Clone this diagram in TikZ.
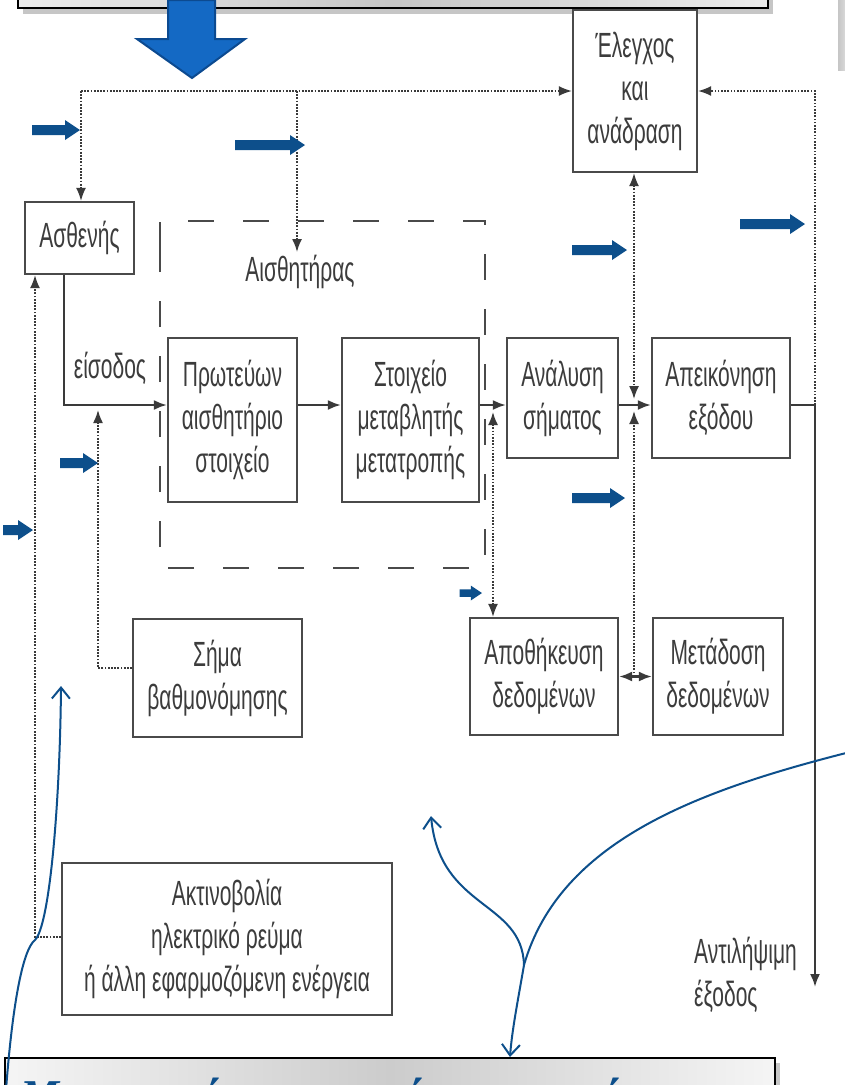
\documentclass[tikz,border=0pt]{standalone}
\usepackage{fontspec}
\setmainfont{Liberation Sans}
\newfontfamily\dfont[FakeStretch=0.6]{Liberation Sans}
\newfontfamily\capfont{Liberation Serif}
\usetikzlibrary{arrows.meta,calc}
\definecolor{linec}{HTML}{3A3A3A}
\definecolor{boxc}{HTML}{4A4A4A}
\definecolor{textc}{HTML}{3C3C3C}
\definecolor{bluec}{HTML}{0D4F8B}
\definecolor{bigblue}{HTML}{1469C4}
\definecolor{bigblueedge}{HTML}{0C4A90}
\newcommand\blockarr[4]{%
  \begin{scope}[shift={(#1,#2)},scale=#4]
    \fill[bluec] (0,0) -- (-15,-10) -- (-15,-5) -- (-#3,-5) -- (-#3,5) -- (-15,5) -- (-15,10) -- cycle;
  \end{scope}}
\tikzset{
  box/.style={draw=boxc, line width=2.2pt, fill=white, inner sep=0pt, align=center,
    text=textc, font=\dfont\fontsize{35}{43}\selectfont},
  lbl/.style={inner sep=0pt, align=center, text=textc, font=\dfont\fontsize{35}{43}\selectfont},
  conn/.style={draw=linec, line width=2.2pt},
  dotc/.style={draw=linec, line width=1.7pt, dash pattern=on 1.7pt off 1.5pt},
  tipa/.style={-{Latex[length=13pt,width=10pt]}},
  tipb/.style={{Latex[length=13pt,width=10pt]}-{Latex[length=13pt,width=10pt]}},
  callout/.style={draw=bluec, line width=2pt, -{Straight Barb[length=11pt,width=18pt,line width=2pt]}},
}
\begin{document}
\begin{tikzpicture}[x=1pt,y=-1pt]
\useasboundingbox (0,0) rectangle (844,1085);

% top caption box (cut off)
\fill[gray!45] (23,-20) rectangle (773,14);
\shade[left color=gray!15, right color=gray!15, middle color=gray!45, draw=black, line width=1.2pt] (18,-30) rectangle (768,8);
% right edge shadow box
\shade[left color=gray!45, right color=gray!20] (838,0) rectangle (850,70);

% big blue arrow
\filldraw[fill=bigblue, draw=bigblueedge, line width=2pt]
  (168,0) -- (215,0) -- (215,39) -- (245,39) -- (192,78) -- (137,39) -- (168,39) -- cycle;

% sensor dashed frame
\draw[boxc, line width=2.5pt, dash pattern=on 26pt off 29pt, dash phase=0pt]
  (160,248) -- (160,221) -- (485,221) -- (485,568) -- (160,568) -- cycle;

% boxes
\node[box, minimum width=109pt, minimum height=72pt] (patient) at (79.5,238) {Ασθενής};
\node[box, minimum width=124pt, minimum height=162pt] (control) at (635,91) {Έλεγχος\\και\\ανάδραση};
\node[box, minimum width=129pt, minimum height=164pt] (primary) at (232.5,420) {Πρωτεύων\\αισθητήριο\\στοιχείο};
\node[box, minimum width=137pt, minimum height=164pt] (conv) at (410.5,420) {Στοιχείο\\μεταβλητής\\μετατροπής};
\node[box, minimum width=111pt, minimum height=120pt] (analysis) at (562.5,398) {Ανάλυση\\σήματος};
\node[box, minimum width=138pt, minimum height=120pt] (display) at (721,398) {Απεικόνηση\\εξόδου};
\node[box, minimum width=148pt, minimum height=117pt] (storage) at (544,676.5) {Αποθήκευση\\δεδομένων};
\node[box, minimum width=130pt, minimum height=117pt] (transmit) at (718,676.5) {Μετάδοση\\δεδομένων};
\node[box, minimum width=169pt, minimum height=118pt] (calib) at (217.5,678) {Σήμα\\βαθμονόμησης};
\node[box, minimum width=330pt, minimum height=152pt] (energy) at (227,939) {Ακτινοβολία\\ηλεκτρικό ρεύμα\\ή άλλη εφαρμοζόμενη ενέργεια};

% labels
\node[lbl] (inlbl) at (110,368) {είσοδος};
\node[lbl] (senslbl) at (300,272) {Αισθητήρας};
\node[lbl, align=left, anchor=west] (outlbl) at (694,975) {Αντιλήψιμη\\έξοδος};

% coordinates
\coordinate (s) at (0,405);
\coordinate (pin) at (64,405);
\coordinate (tl) at (81,91);
\coordinate (tm) at (297,91);
\coordinate (tr) at (815,91);
\coordinate (outc) at (815,405);
\coordinate (outend) at (815,987);
\coordinate (vx) at (634,0);
\coordinate (ux) at (493,0);
\coordinate (cx) at (98,0);
\coordinate (ex) at (35,0);

% solid signal path
\draw[conn, tipa] (patient.south -| pin) -- (pin) -- (primary.west |- s);
\draw[conn, tipa] (primary.east |- s) -- (conv.west |- s);
\draw[conn, tipa] (conv.east |- s) -- (analysis.west |- s);
\draw[conn, tipa] (analysis.east |- s) -- (display.west |- s);
\draw[conn, tipa] (display.east |- s) -- (outc) -- (outend);
\draw[conn, tipb] (storage.east) -- (transmit.west);

% dotted control paths
\draw[dotc, tipa] (tl) -- (control.west |- tl);
\draw[dotc, tipa] (tl) -- (patient.north -| tl);
\draw[dotc, tipa] (tm) -- (tm |- 0,252);
\draw[dotc, tipa] (outc) -- (tr) -- (control.east |- tr);
\draw[dotc, tipb] (control.south -| vx) -- (vx |- 0,399);
\draw[dotc, tipa] (vx |- storage.east) -- (vx |- 0,411);
\draw[dotc, tipb] (ux |- 0,412) -- (storage.north -| ux);
\draw[dotc, tipa] (calib.west |- 0,668) -- (cx |- 0,668) -- (cx |- 0,410);
\draw[dotc, tipa] (energy.west |- 0,937) -- (ex |- 0,937) -- (patient.south -| ex);

% blue block arrows
\blockarr{80}{130}{48}{1}
\blockarr{305}{145}{70}{1}
\blockarr{627}{250}{55}{1}
\blockarr{805}{224}{65}{1}
\blockarr{98}{463}{38}{1}
\blockarr{33}{530}{30}{1}
\blockarr{625}{498}{53}{1}
\blockarr{482}{593}{30}{0.75}

% bottom caption box (cut off)
\fill[gray!45] (10,1063) rectangle (780,1110);
\shade[left color=gray!8, right color=gray!8, middle color=gray!40, draw=black, line width=1.2pt] (5,1058) rectangle (775,1120);
\node[anchor=base west, inner sep=0pt, text=bluec, font=\capfont\bfseries\itshape\fontsize{44}{50}\selectfont] (caption) at (20,1110) {Μια γενική περιγραφή του συστήματος};

% blue callout curves
\coordinate (J) at (524,965);
\draw[callout] (6,1090) .. controls (12,1010) and (22,950) .. (35,940) .. controls (50,925) and (60,800) .. (61,686);
\draw[bluec, line width=2pt] (850,752) .. controls (700,790) and (560,840) .. (J);
\draw[callout] (J) .. controls (518,1000) and (512,1030) .. (510,1057);
\draw[callout] (J) .. controls (522,900) and (440,910) .. (431,816);
\end{tikzpicture}
\end{document}
